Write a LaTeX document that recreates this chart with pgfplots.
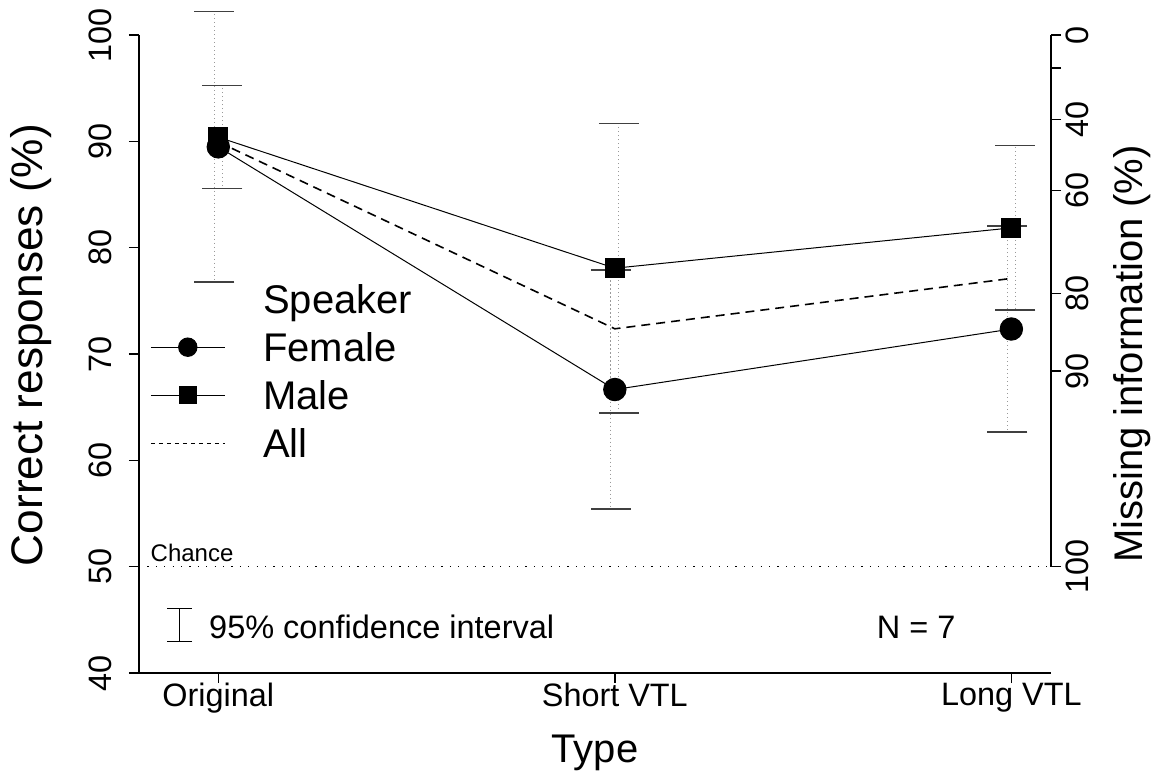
\documentclass[border=0pt]{standalone}
\usepackage{fontspec}
\setmainfont{Liberation Sans}
\usepackage{pgfplots}
\pgfplotsset{compat=1.18}

\pgfplotsset{
  rbase/.style={
    scale only axis, width=456pt, height=319pt,
    xmin=0.8, xmax=3.1, ymin=40, ymax=100,
    clip=false,
    tick align=outside,
    major tick length=5pt,
    every tick/.style={black, line width=0.8pt},
    /pgf/number format/assume math mode=true,
    tick label style={font=\fontsize{16.2}{19}\selectfont},
  },
  ebar/.style={forget plot, draw=none, mark=none,
    error bars/.cd, y dir=both, y explicit,
    error bar style={draw=gray!80, line width=0.6pt, dash pattern=on 0.6pt off 1.4pt},
    error mark options={rotate=90, solid, draw=black!75, line width=0.6pt, mark size=10pt}},
}

\begin{document}
\begin{tikzpicture}
\begin{axis}[
  rbase,
  axis x line*=bottom, axis y line*=left,
  axis line style={line width=1pt, -},
  xtick={1,2,3},
  xticklabels={Original, Short VTL, Long VTL},
  ytick={40,50,...,100},
  yticklabel style={rotate=90, anchor=south, inner sep=0pt},
  yticklabel shift=8.5pt,
  xticklabel style={anchor=north, inner sep=0pt},
  xlabel={Type},
  ylabel={Correct responses (\%)},
  every axis x label/.style={at={(rel axis cs:0.5,-0.1395)}, anchor=base, font=\fontsize{20}{24}\selectfont},
  every axis y label/.style={at={(rel axis cs:-0.1057,0.514)}, rotate=90, anchor=base, font=\fontsize{22.1}{26}\selectfont},
  legend style={at={(axis cs:0.8285,76.5)}, anchor=north west, draw=none, fill=none,
    inner sep=0pt, outer sep=0pt, font=\fontsize{20}{24}\selectfont,
    row sep=9.7pt, column sep=0pt,
    nodes={inner sep=0pt, text height=14.3pt, text depth=0pt}},
  legend cell align=left,
  legend image code/.code={\draw[mark repeat=2, mark phase=2, #1] plot coordinates {(0pt,0pt) (18.5pt,0pt) (37pt,0pt)}; \path (56pt,0pt);},
]
\coordinate (O) at (rel axis cs:0,0);

% chance level
\addplot[forget plot, black, line width=0.6pt, dash pattern=on 0.6pt off 3.6pt] coordinates {(0.8,50) (3.1,50)};
\node[anchor=base west, inner sep=0pt, font=\fontsize{12}{14}\selectfont] at (axis cs:0.8285,50.47) {Chance};

% 95% CI, female (left) and male (right)
\addplot[ebar] coordinates {(0.9899,89.48) +- (0,12.70) (1.9899,66.66) +- (0,11.24) (2.9899,72.35) +- (0,9.69)};
\addplot[ebar] coordinates {(1.0101,90.39) +- (0,4.85) (2.0101,78.07) +- (0,13.62) (3.0101,81.86) +- (0,7.72)};

% means
\addplot[forget plot, black, line width=0.8pt, dash pattern=on 4.5pt off 3pt] coordinates {(1,89.94) (2,72.37) (3,77.11)};
\addplot[forget plot, black, line width=0.5pt, mark=*, mark size=5.6pt, mark options={solid}] coordinates {(1,89.48) (2,66.66) (3,72.35)};
\addplot[forget plot, black, line width=0.5pt, mark=square*, mark size=4.8pt, mark options={solid}] coordinates {(1,90.39) (2,78.07) (3,81.86)};

% CI key
\addplot[forget plot, draw=none, mark=none, error bars/.cd, y dir=both, y explicit,
  error bar style={draw=black, line width=0.6pt}, error mark options={rotate=90, draw=black, line width=0.6pt, mark size=6.25pt}]
  coordinates {(0.9024,44.54) +- (0,1.54)};
\node[anchor=base west, inner sep=0pt, font=\fontsize{16.25}{19}\selectfont] at (axis cs:0.976,43.2) {95\% confidence interval};
\node[anchor=base west, inner sep=0pt, font=\fontsize{16.25}{19}\selectfont] at (axis cs:2.66,43.2) {N = 7};

% right axis line
\draw[line width=1pt] (axis cs:3.1,50) -- (axis cs:3.1,100);

\addlegendimage{empty legend}
\addlegendentry{Speaker}
\addlegendimage{black, line width=0.5pt, mark=*, mark size=4.6pt}
\addlegendentry{Female}
\addlegendimage{black, line width=0.5pt, mark=square*, mark size=4.1pt}
\addlegendentry{Male}
\addlegendimage{black, line width=0.5pt, dash pattern=on 2pt off 2pt}
\addlegendentry{All}
\end{axis}

\begin{axis}[
  rbase,
  axis x line=none, axis y line*=right,
  y axis line style={draw=none},
  ytick={50,68.40,75.70,85.39,92.06,96.89,100},
  yticklabels={100,90,80,60,40,,0},
  yticklabel style={rotate=90, anchor=north, inner sep=0pt},
  yticklabel shift=2pt,
  ylabel={Missing information (\%)},
  every axis y label/.style={at={(rel axis cs:1.1004,0.5)}, rotate=90, anchor=base, font=\fontsize{20}{24}\selectfont},
]
\end{axis}

\pgfresetboundingbox
\path (O) ++(-69.5pt,-54.5pt) rectangle ++(577.5pt,391pt);
\end{tikzpicture}
\end{document}
